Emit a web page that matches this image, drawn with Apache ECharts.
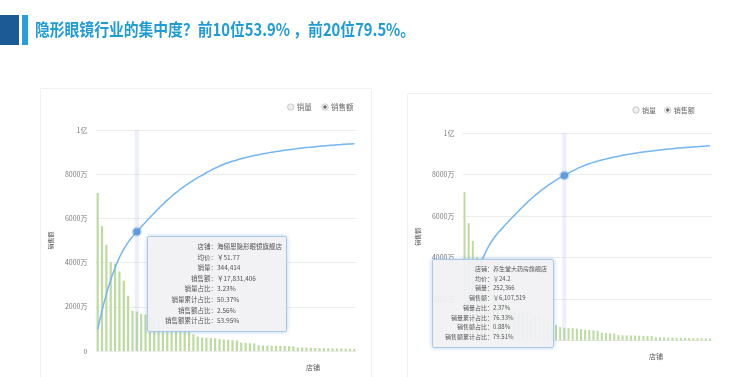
<!DOCTYPE html>
<html>
<head>
<meta charset="utf-8">
<script src="https://cdn.jsdelivr.net/npm/echarts@6/dist/echarts.min.js"></script>
<style>
body{margin:0;background:#fff;width:746px;height:377px;overflow:hidden;position:relative}
#head{position:absolute;left:0;top:0;width:746px;height:60px}
#c1{position:absolute;left:40px;top:88px;width:332px;height:289px}
#c2{position:absolute;left:407px;top:93px;width:306px;height:284px}
</style>
</head>
<body>
<div id="head"></div>
<div id="c1"></div>
<div id="c2"></div>
<script>
const FONT = '"Noto Sans CJK SC", "Noto Sans", sans-serif';

const titleText = '隐形眼镜行业的集中度？前10位53.9% ，前20位79.5%。';
const legendNames = ['销量', '销售额'];

// 店铺排名（按销售额）
const shopRank = [1,2,3,4,5,6,7,8,9,10,11,12,13,14,15,16,17,18,19,20,
  21,22,23,24,25,26,27,28,29,30,31,32,33,34,35,36,37,38,39,40,
  41,42,43,44,45,46,47,48,49,50,51,52,53,54,55,56,57,58,59,60];

// 销售额，单位：万
const salesWan = [7150, 5650, 4800, 4020, 3950, 3600, 3180, 2500, 1830, 1783.14,
  1680, 1650, 1550, 1450, 1420, 1380, 1350, 1250, 1200, 1100,
  1000, 900, 750, 650, 610.75, 600, 590, 575, 540, 520,
  505, 490, 470, 380, 360, 350, 340, 260, 250, 245,
  240, 235, 230, 225, 220, 215, 160, 155, 150, 145,
  140, 135, 130, 125, 120, 115, 110, 105, 100, 95];

// 销售额累计占比 %
const cumShare = [9.85, 18.35, 25.75, 32.15, 37.65, 42.25, 46.05, 49.15, 51.75, 53.95,
  56.15, 58.3, 60.4, 62.45, 64.45, 66.4, 68.25, 70.0, 71.65, 73.2,
  74.65, 76.0, 77.25, 78.45, 79.51, 80.66, 81.74, 82.74, 83.66, 84.49,
  85.2, 85.84, 86.43, 86.98, 87.49, 87.97, 88.42, 88.84, 89.23, 89.59,
  89.93, 90.25, 90.55, 90.83, 91.09, 91.34, 91.58, 91.81, 92.03, 92.24,
  92.44, 92.63, 92.81, 92.98, 93.14, 93.29, 93.43, 93.57, 93.7, 93.83];

// 提示框内容
const tipLabels = ['店铺', '均价', '销量', '销售额', '销量占比', '销量累计占比', '销售额占比', '销售额累计占比'];
const tipLeft = ['海俪恩隐形眼镜旗舰店', '￥51.77', '344,414', '￥17,831,406', '3.23%', '50.37%', '2.56%', '53.95%'];
const tipRight = ['养生堂大药房旗舰店', '￥24.2', '252,366', '￥6,107,519', '2.37%', '76.33%', '0.88%', '79.51%'];
const hoverIndex = [9, 24];

// 标题
const head = echarts.init(document.getElementById('head'));
head.setOption({
  graphic: [
    { type: 'rect', shape: { x: 0, y: 15, width: 19, height: 30 }, style: { fill: '#1c5a96' } },
    { type: 'rect', shape: { x: 22, y: 15, width: 6, height: 30 }, style: { fill: '#2a9ed8' } },
    { type: 'text', x: 35, y: 30, scaleX: 0.87, style: { text: titleText, fill: '#1f9bd7', font: 'bold 17px ' + FONT, verticalAlign: 'middle' } }
  ]
});

function tipHtml(values, o) {
  let html = '';
  tipLabels.forEach((lab, i) => {
    html += '<div style="line-height:' + o.lh + 'px;font-size:' + o.fs + 'px;color:#555;white-space:nowrap;font-family:' + FONT.replace(/"/g, "'") + '">' +
      '<span style="display:inline-block;width:' + o.labW + 'px;text-align:right">' + lab + '：</span>' + values[i] + '</div>';
  });
  return html;
}

function radio(cx, cy, on, label, fs) {
  const items = [
    { type: 'circle', shape: { cx: cx, cy: cy, r: 3.2 }, style: { fill: on ? '#fff' : '#eeeeee', stroke: '#bdbdbd', lineWidth: 0.8 } },
    { type: 'text', x: cx + 6, y: cy, style: { text: label, fill: '#666', font: fs + 'px ' + FONT, verticalAlign: 'middle' } }
  ];
  if (on) items.push({ type: 'circle', shape: { cx: cx, cy: cy, r: 1.7 }, style: { fill: '#666' } });
  return items;
}

function makeChart(id, o) {
  const chart = echarts.init(document.getElementById(id));
  chart.setOption({
    animation: false,
    textStyle: { fontFamily: FONT },
    grid: { left: o.gl, top: o.gt, width: o.gw, height: o.gh },
    tooltip: {
      trigger: 'axis',
      triggerOn: 'none',
      alwaysShowContent: true,
      position: o.tipPos,
      backgroundColor: 'rgba(241,241,244,0.92)',
      borderColor: '#a9c8e8',
      borderWidth: 1,
      padding: [o.pt, 4, 0, 0],
      extraCssText: 'width:' + o.tw + 'px;height:' + o.th + 'px;box-sizing:border-box;border-radius:2px;box-shadow:0 0 4px rgba(120,170,225,0.55)',
      axisPointer: { type: 'shadow', shadowStyle: { color: 'rgba(175,180,235,0.22)' } },
      formatter: () => tipHtml(o.tip, o)
    },
    xAxis: {
      type: 'category',
      data: shopRank,
      axisLine: { show: false },
      axisTick: { show: false },
      axisLabel: { show: false },
      name: '店铺',
      nameLocation: 'end',
      nameGap: o.xNameGap,
      nameTextStyle: { fontSize: 7, color: '#555', align: 'center', verticalAlign: 'top', padding: [o.xNamePad, 0, 0, 0] }
    },
    yAxis: [{
      type: 'value',
      min: 0,
      max: 10000,
      interval: 2000,
      name: '销售额',
      nameLocation: 'middle',
      nameGap: o.yNameGap,
      nameTextStyle: { fontSize: 6, color: '#444' },
      axisLine: { show: false },
      axisTick: { show: false },
      axisLabel: {
        fontSize: 7, color: '#7a7a7a', margin: 8,
        formatter: v => v === 10000 ? '1亿' : (v === 0 ? '0' : v + '万')
      },
      splitLine: { lineStyle: { color: '#ececec' } }
    }, {
      type: 'value', min: 0, max: 100, show: false
    }],
    series: [{
      name: '销售额',
      type: 'bar',
      data: salesWan,
      barWidth: o.bw,
      itemStyle: { color: '#bddba0' },
      emphasis: { disabled: true }
    }, {
      name: '销售额累计占比',
      type: 'line',
      yAxisIndex: 1,
      data: cumShare,
      smooth: true,
      showSymbol: false,
      symbol: 'circle',
      symbolSize: 7,
      lineStyle: { color: '#6aa5de', width: 1.5 },
      itemStyle: { color: '#4d95dc' },
      emphasis: {
        scale: false,
        lineStyle: { width: 1.5 },
        itemStyle: { color: '#4d95dc', borderColor: 'rgba(77,149,220,0.35)', borderWidth: 3 }
      }
    }],
    graphic: [
      { type: 'rect', silent: true, shape: { x: 0.5, y: 0.5, width: o.pw, height: 400 }, style: { fill: 'none', stroke: '#f0f0f0', lineWidth: 1 } }
    ].concat(radio(o.lx1, o.ly, false, legendNames[0], o.lfs), radio(o.lx2, o.ly, true, legendNames[1], o.lfs))
  });
  chart.dispatchAction({ type: 'showTip', seriesIndex: 1, dataIndex: o.hover });
  return chart;
}

makeChart('c1', {
  gl: 55.5, gt: 42, gw: 261, gh: 221, bw: 2.2,
  xNameGap: -43.5, xNamePad: 13, yNameGap: 34,
  tipPos: [107, 148], tw: 140, th: 96, pt: 4, lh: 10.6, fs: 6.5, labW: 69,
  tip: tipLeft, hover: hoverIndex[0],
  pw: 331, lx1: 250.7, lx2: 285, ly: 19, lfs: 7.5
});

makeChart('c2', {
  gl: 49, gt: 40, gw: 256, gh: 207.5, bw: 2,
  xNameGap: -56, xNamePad: 12, yNameGap: 32,
  tipPos: [25, 166], tw: 122, th: 89, pt: 4, lh: 9.7, fs: 6, labW: 60,
  tip: tipRight, hover: hoverIndex[1],
  pw: 310, lx1: 229, lx2: 260.7, ly: 17, lfs: 7
});
</script>
</body>
</html>
